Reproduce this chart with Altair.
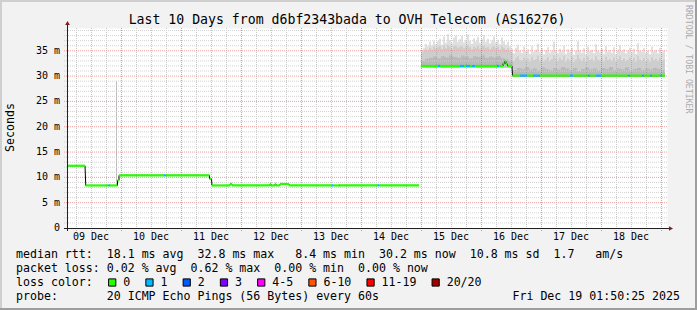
import altair as alt
import pandas as pd

NB = "\u00a0"
MONO = "DejaVu Sans Mono"

# ---------------- text content ----------------
title_text = "Last 10 Days from d6bf2343bada to OVH Telecom (AS16276)"
y_title = "Seconds"
watermark = "RRDTOOL / TOBI OETIKER"
day_labels = ["09 Dec", "10 Dec", "11 Dec", "12 Dec", "13 Dec",
              "14 Dec", "15 Dec", "16 Dec", "17 Dec", "18 Dec"]
y_ticks = [0, 5, 10, 15, 20, 25, 30, 35]
legend_rows = [
    "median rtt:  18.1 ms avg  32.8 ms max   8.4 ms min  30.2 ms now  10.8 ms sd  1.7   am/s",
    "packet loss: 0.02 % avg  0.62 % max  0.00 % min  0.00 % now",
    "loss color:",
    "probe:       20 ICMP Echo Pings (56 Bytes) every 60s",
]
stamp = "Fri Dec 19 01:50:25 2025"
loss_labels = ["0", "1", "2", "3", "4-5", "6-10", "11-19", "20/20"]
loss_colors = ["#26ff00", "#00b8ff", "#0059ff", "#7e00ff",
               "#ff00ff", "#ff5500", "#ff0000", "#a10000"]

# ---------------- data (time = hours since 2025-12-09 00:00, values in ms) ----------------
seg_start = [2.4, 9.9, 19.0, 19.6, 22.6, 23.2, 41.2, 41.8, 59.4, 60.4,
             67.6, 68.4, 83.6, 84.0, 85.6, 86.0, 87.6, 91.2, 108.4, 108.8,
             111.2, 111.6, 126.8, 127.2,
             144.0, 150.8, 151.6, 159.6, 161.2, 162.0, 163.6, 164.4, 165.6, 174.4,
             175.2, 176.8, 177.4, 178.0, 178.6,
             180.6, 183.6, 186.4, 188.8, 191.6, 203.6, 204.8, 211.0, 211.6, 214.0,
             216.0, 227.0, 227.6, 232.6, 233.2, 235.8, 236.4, 239.8, 240.4]
seg_end = [9.6, 19.0, 19.6, 22.6, 23.2, 41.2, 41.8, 59.4, 60.2, 67.6,
           68.4, 83.6, 84.0, 85.6, 86.0, 87.6, 91.2, 108.4, 108.8, 111.2,
           111.6, 126.8, 127.2, 143.2,
           150.8, 151.6, 159.6, 161.2, 162.0, 163.6, 164.4, 165.6, 174.4, 175.2,
           176.8, 177.4, 178.0, 178.6, 180.4,
           183.6, 186.4, 188.8, 191.6, 203.6, 204.8, 211.0, 211.6, 214.0, 216.0,
           227.0, 227.6, 232.6, 233.2, 235.8, 236.4, 239.8, 240.4, 241.6]
seg_ms = [12.3, 8.4, 8.4, 8.4, 9.4, 10.4, 10.4, 10.4, 9.7, 8.4,
          8.7, 8.4, 8.7, 8.4, 8.7, 8.4, 8.7, 8.4, 8.4, 8.4,
          8.4, 8.4, 8.4, 8.4,
          32.0, 32.0, 32.0, 32.0, 32.0, 32.0, 32.0, 32.0, 32.0, 32.0,
          32.0, 32.5, 32.9, 32.4, 32.0,
          30.1, 30.1, 30.1, 30.1, 30.1, 30.1, 30.1, 30.1, 30.1, 30.1,
          30.1, 30.1, 30.1, 30.1, 30.1, 30.1, 30.1, 30.1, 30.1]
seg_loss = [0, 0, 1, 0, 0, 0, 1, 0, 0, 0,
            0, 0, 0, 0, 0, 0, 0, 0, 1, 0,
            1, 0, 1, 0,
            0, 1, 0, 1, 0, 1, 0, 1, 0, 1,
            0, 0, 0, 0, 0,
            0, 1, 0, 1, 0, 1, 0, 1, 0, 1,
            0, 1, 0, 1, 0, 1, 0, 1, 0]
gap_end = 144.0

smoke_start = 144.0
smoke_max = [35.2, 35.6, 36.4, 35.9, 36.8, 36.1, 37.0, 36.3, 36.9, 37.4,
             36.2, 37.8, 36.6, 38.3, 37.1, 36.5, 37.6, 38.0, 36.8, 37.3,
             37.9, 36.7, 37.2, 38.2, 37.0, 36.4, 37.5, 36.9, 37.7, 36.6,
             37.3, 38.1, 36.8, 37.4, 36.5, 37.0, 37.8, 36.7, 37.2, 36.3,
             37.6, 36.9, 36.2, 36.8, 35.9, 35.4,
             34.5, 35.6, 36.2, 35.0, 34.6, 35.8, 34.9, 35.3, 34.4, 35.9,
             34.8, 35.2, 36.4, 34.7, 35.5, 34.3, 35.1, 35.7, 34.6, 35.0,
             36.8, 35.2, 34.5, 35.4, 34.9, 36.0, 34.4, 35.3, 34.8, 35.6,
             34.2, 35.0, 36.9, 35.1, 34.6, 35.5, 34.3, 35.8, 34.9, 35.2,
             34.5, 36.3, 35.0, 34.7, 35.4, 34.4, 35.9, 34.8, 35.1, 34.6,
             35.7, 34.3, 35.2, 36.1, 34.9, 35.3, 34.5, 35.0, 35.6, 34.7,
             35.4, 34.4, 36.5, 35.0, 34.8, 35.5, 34.6, 35.1, 34.3, 35.8,
             34.9, 35.2, 34.5, 35.6, 34.7, 35.0]
smoke_mid = [34.6, 34.9, 35.3, 35.0, 35.6, 35.2, 35.8, 35.4, 35.7, 36.0,
             35.3, 36.1, 35.5, 36.2, 35.8, 35.4, 35.9, 36.1, 35.6, 35.8,
             36.0, 35.5, 35.9, 36.2, 35.7, 35.3, 35.8, 35.6, 36.0, 35.4,
             35.9, 36.1, 35.6, 35.8, 35.3, 35.7, 36.0, 35.5, 35.8, 35.2,
             35.9, 35.6, 35.2, 35.5, 35.0, 34.6,
             33.0, 33.6, 33.9, 33.2, 33.1, 33.7, 33.3, 33.5, 32.9, 33.8,
             33.2, 33.4, 34.0, 33.1, 33.6, 32.9, 33.3, 33.7, 33.0, 33.4,
             34.1, 33.5, 33.0, 33.6, 33.2, 33.9, 32.9, 33.5, 33.1, 33.7,
             32.8, 33.3, 34.2, 33.4, 33.0, 33.6, 32.9, 33.8, 33.2, 33.5,
             33.0, 33.9, 33.3, 33.1, 33.6, 32.9, 33.8, 33.2, 33.4, 33.0,
             33.7, 32.9, 33.4, 33.9, 33.2, 33.5, 33.0, 33.3, 33.7, 33.1,
             33.6, 32.9, 34.0, 33.3, 33.1, 33.6, 33.0, 33.4, 32.8, 33.7,
             33.2, 33.5, 33.0, 33.6, 33.1, 33.3]
smoke_low = [33.0, 33.4, 33.6, 33.9, 33.5, 34.0, 33.7, 34.2, 33.8, 33.6,
             34.1, 33.9, 33.5, 34.0, 33.8, 34.2, 33.6, 33.9, 33.7, 34.0,
             33.5, 33.3, 33.0,
             31.2, 31.6, 31.4, 31.8, 31.3, 31.5, 31.1, 31.7, 31.4, 31.2,
             31.6, 31.3, 31.8, 31.5, 31.2, 31.6, 31.0, 31.4, 31.7, 31.3,
             31.5, 31.1, 31.6, 31.4, 31.8, 31.2, 31.5, 31.3, 31.7, 31.1,
             31.4, 31.6, 31.2, 31.5, 31.3, 31.6, 31.4, 31.2]
smoke_floor = [31.7, 29.8]
smoke_split = 180.4
spike_t = [22.0]
spike_lo = [8.4]
spike_hi = [29.0]

# ---------------- geometry ----------------
W, H = 600, 200
PL, PT = 67, 28
xs = alt.Scale(domain=[2.4, 242.4], nice=False, zero=False)
ys = alt.Scale(domain=[0, 39.5], nice=False, zero=False)
one = pd.DataFrame({"d": [0]})


def nb(s):
    return s.replace(" ", NB)


def txt(s, x, y, size=11.6, align="left", baseline="alphabetic", angle=0,
        color="#000000", font=MONO):
    kw = dict(align=align, baseline=baseline, font=font, fontSize=size, color=color)
    if angle:
        kw["angle"] = angle
    return alt.Chart(one).mark_text(**kw).encode(
        x=alt.value(x), y=alt.value(y), text=alt.value(nb(s)))


def hrule(x, x2, y, color, w=1):
    return alt.Chart(one).mark_rule(color=color, strokeWidth=w).encode(
        x=alt.value(x), x2=alt.value(x2), y=alt.value(y))


def vrule(x, y, y2, color, w=1):
    return alt.Chart(one).mark_rule(color=color, strokeWidth=w).encode(
        x=alt.value(x), y=alt.value(y), y2=alt.value(y2))


def bins(vals, step):
    t0 = [smoke_start + i * step for i in range(len(vals))]
    return pd.DataFrame({
        "t0": t0,
        "t1": [t + step for t in t0],
        "top": vals,
        "bot": [smoke_floor[0] if t < smoke_split else smoke_floor[1] for t in t0],
    })


layers = []

# smoke
for vals, step, col in [(smoke_max, 0.8, "#E0E0E0"),
                        (smoke_mid, 0.8, "#CDCDCD"),
                        (smoke_low, 1.6, "#B9B9B9")]:
    layers.append(alt.Chart(bins(vals, step)).mark_rect(color=col).encode(
        x=alt.X("t0:Q", scale=xs, axis=None), x2="t1:Q",
        y=alt.Y("bot:Q", scale=ys, axis=None), y2="top:Q"))

layers.append(alt.Chart(pd.DataFrame({"t": spike_t, "lo": spike_lo, "hi": spike_hi}))
              .mark_rule(color="#BBBBBB", strokeWidth=1, xOffset=0.5).encode(
    x=alt.X("t:Q", scale=xs, axis=None),
    y=alt.Y("lo:Q", scale=ys, axis=None), y2="hi:Q"))

# grid (minor first, major on top)
minor_t = [h for h in range(6, 241, 6) if h % 24]
major_t = list(range(24, 241, 24))
minor_v = [v for v in range(1, 40) if v % 5]
major_v = list(range(5, 40, 5))
for tl, col, op in [(minor_t, "#8F8F8F", 0.5), (major_t, "#DE4F4F", 0.6)]:
    layers.append(alt.Chart(pd.DataFrame({"gt": tl})).mark_rule(
        color=col, opacity=op, strokeDash=[1, 1], strokeWidth=1, xOffset=0.5).encode(
        x=alt.X("gt:Q", scale=xs, axis=None), y=alt.value(0), y2=alt.value(H + 3)))
for vl, col, dash in [(minor_v, "#D2D2D2", [1, 1]), (major_v, "#EBA0A0", [1, 1])]:
    layers.append(alt.Chart(pd.DataFrame({"gv": vl})).mark_rule(
        color=col, opacity=1, strokeDash=dash, strokeWidth=1).encode(
        y=alt.Y("gv:Q", scale=ys, axis=None), x=alt.value(-3), x2=alt.value(W)))

# median: black connector, then loss-coloured segments
pts = []
for i, (s, e, v) in enumerate(zip(seg_start, seg_end, seg_ms)):
    g = 0 if s < gap_end else 1
    pts.append({"t": s, "v": v, "g": g, "o": 2 * i})
    pts.append({"t": e, "v": v, "g": g, "o": 2 * i + 1})
layers.append(alt.Chart(pd.DataFrame(pts)).mark_line(color="#000000", strokeWidth=1).encode(
    x=alt.X("t:Q", scale=xs, axis=None), y=alt.Y("v:Q", scale=ys, axis=None),
    detail="g:N", order="o:Q"))

segs = pd.DataFrame({"s": seg_start, "e": seg_end, "v": seg_ms,
                     "loss": [loss_labels[k] for k in seg_loss]})
layers.append(alt.Chart(segs).mark_rule(strokeWidth=2.2).encode(
    x=alt.X("s:Q", scale=xs, axis=None), x2="e:Q",
    y=alt.Y("v:Q", scale=ys, axis=None),
    color=alt.Color("loss:N", scale=alt.Scale(domain=loss_labels, range=loss_colors),
                    legend=None)))

# tick labels
xl = pd.DataFrame({"t": [12 + 24 * i for i in range(len(day_labels))],
                   "lab": [nb(s) for s in day_labels]})
layers.append(alt.Chart(xl).mark_text(font=MONO, fontSize=10, align="center",
                                      baseline="top", color="#000000").encode(
    x=alt.X("t:Q", scale=xs, axis=None), y=alt.value(H + 4), text="lab:N"))
yl = pd.DataFrame({"v": y_ticks,
                   "lab": [("0" + NB + NB) if v == 0 else f"{v}{NB}m" for v in y_ticks]})
layers.append(alt.Chart(yl).mark_text(font=MONO, fontSize=10, align="right",
                                      baseline="middle", color="#000000").encode(
    y=alt.Y("v:Q", scale=ys, axis=None), x=alt.value(-7), text="lab:N"))

# axes lines + arrows
layers.append(vrule(0.5, -6, H + 3, "#1F1F1F"))
layers.append(hrule(-3, W + 3, H + 0.5, "#1F1F1F"))
layers.append(alt.Chart(one).mark_point(shape="triangle-up", filled=True, size=22,
                                        color="#801F1F", opacity=1).encode(
    x=alt.value(0.5), y=alt.value(-5)))
layers.append(alt.Chart(one).mark_point(shape="triangle-right", filled=True, size=22,
                                        color="#801F1F", opacity=1).encode(
    x=alt.value(W + 4), y=alt.value(H + 0.5)))

# frame (3D shade)
layers.append(hrule(-PL, 697 - PL, -PT + 1, "#CFCFCF", 2))
layers.append(vrule(-PL + 1, -PT, 310 - PT, "#CFCFCF", 2))
layers.append(hrule(-PL, 697 - PL, 310 - PT - 1, "#9E9E9E", 2))
layers.append(vrule(697 - PL - 1, -PT, 310 - PT, "#9E9E9E", 2))

# texts
layers.append(txt(title_text, 347 - PL, 23.5 - PT, size=13.2, align="center"))
layers.append(txt(y_title, 11 - PL, 127.5 - PT, size=11.6, align="center",
                  baseline="middle", angle=270))
layers.append(txt(watermark, 688 - PL, 5 - PT, size=8.2, align="left",
                  baseline="middle", angle=90, color="#ABABAB"))
row_base = [258.3, 272.1, 285.9, 299.7]
for s, yb in zip(legend_rows, row_base):
    layers.append(txt(s, 16 - PL, yb - PT))
layers.append(txt(stamp, 680 - PL, row_base[3] - PT, align="right"))

# loss colour swatches
sx = 112.2
for lab, col in zip(loss_labels, loss_colors):
    layers.append(alt.Chart(one).mark_square(size=52, filled=True, fill=col,
                                             stroke="#000000", strokeWidth=1,
                                             opacity=1).encode(
        x=alt.value(sx - PL), y=alt.value(282.5 - PT)))
    layers.append(txt(lab, sx + 11 - PL, row_base[2] - PT))
    sx += 30.3 + 6.96 * len(lab)

chart = alt.layer(*layers).properties(
    width=W, height=H,
    padding={"left": PL, "top": PT, "right": 697 - PL - W, "bottom": 310 - PT - H},
    autosize=alt.AutoSizeParams(type="none"),
    background="#F2F2F2",
).configure_view(fill="white", stroke="transparent")

chart.save("out.html", embed_options={"renderer": "svg", "actions": False})
